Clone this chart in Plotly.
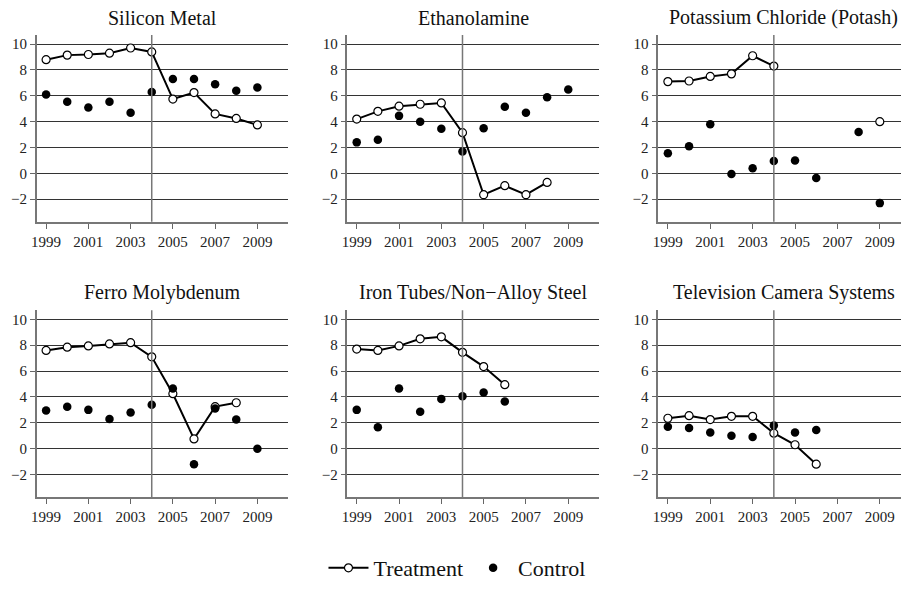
import plotly.graph_objects as go

years = list(range(1999, 2010))

titles = ["Silicon Metal", "Ethanolamine", "Potassium Chloride (Potash)",
          "Ferro Molybdenum", "Iron Tubes/Non\u2212Alloy Steel", "Television Camera Systems"]

treatment = [
    [8.8, 9.15, 9.2, 9.3, 9.7, 9.4, 5.75, 6.25, 4.6, 4.25, 3.75],
    [4.2, 4.8, 5.2, 5.35, 5.45, 3.15, -1.65, -0.95, -1.65, -0.7, None],
    [7.1, 7.15, 7.5, 7.7, 9.1, 8.3, None, None, None, None, 4.0],
    [7.6, 7.85, 7.95, 8.1, 8.2, 7.1, 4.25, 0.75, 3.25, 3.55, None],
    [7.7, 7.6, 7.95, 8.5, 8.65, 7.45, 6.35, 4.95, None, None, None],
    [2.35, 2.55, 2.25, 2.5, 2.5, 1.2, 0.3, -1.2, None, None, None],
]

control = [
    [6.1, 5.55, 5.1, 5.55, 4.7, 6.3, 7.3, 7.3, 6.9, 6.4, 6.65],
    [2.4, 2.6, 4.45, 4.0, 3.45, 1.7, 3.5, 5.15, 4.7, 5.9, 6.5],
    [1.55, 2.1, 3.8, -0.05, 0.4, 0.95, 1.0, -0.35, None, 3.2, -2.3],
    [2.95, 3.25, 3.0, 2.3, 2.8, 3.4, 4.65, -1.2, 3.1, 2.25, 0.0],
    [3.0, 1.65, 4.65, 2.85, 3.85, 4.05, 4.35, 3.65, None, None, None],
    [1.7, 1.6, 1.25, 1.0, 0.9, 1.8, 1.25, 1.45, None, None, None],
]

W, H = 901, 589
# panel boxes in pixels (left, right, top, bottom)
col_px = [(31, 283.7), (343.7, 596.7), (656.7, 901)]
row_px = [(35.7, 225.7), (315.7, 505.7)]
x_ranges = [[1998.56, 2010.44], [1998.56, 2010.44], [1998.55, 2010.0]]
title_cx = [157.3, 470.2, 783]
title_y = [18, 298]

serif = "'Liberation Serif', 'Times New Roman', Times, 'DejaVu Serif', serif"


def px(v):
    return v / W


def py(v):
    return (H - v) / H


fig = go.Figure()
for i in range(6):
    r, c = divmod(i, 3)
    n = "" if i == 0 else str(i + 1)
    xa, ya = "x" + n, "y" + n
    fig.add_trace(go.Scatter(
        x=years, y=treatment[i], xaxis=xa, yaxis=ya, mode="lines+markers",
        name="Treatment", showlegend=(i == 0), connectgaps=False,
        line=dict(color="black", width=2),
        marker=dict(symbol="circle", size=8, color="white",
                    line=dict(color="black", width=1.2))))
    fig.add_trace(go.Scatter(
        x=years, y=control[i], xaxis=xa, yaxis=ya, mode="markers",
        name="Control", showlegend=(i == 0),
        marker=dict(symbol="circle", size=8.5, color="black")))

    l, rr = col_px[c]
    t, b = row_px[r]
    fig.update_layout(**{
        "xaxis" + n: dict(
            domain=[px(l), min(px(rr), 1.0)], range=x_ranges[c],
            tickvals=[1999, 2001, 2003, 2005, 2007, 2009],
            ticks="outside", ticklen=5, tickcolor="#666", tickwidth=1,
            showgrid=False, zeroline=False, showline=True,
            linecolor="#777", linewidth=1.5, anchor=ya,
            tickfont=dict(family=serif, size=15, color="#222")),
        "yaxis" + n: dict(
            domain=[py(b), py(t)], range=[-3.75, 10.7],
            tickvals=[-2, 0, 2, 4, 6, 8, 10],
            ticks="outside", ticklen=5, tickcolor="#666", tickwidth=1,
            showgrid=True, gridcolor="#333", gridwidth=1,
            zeroline=False, showline=True, linecolor="#777", linewidth=1.5,
            anchor=xa, tickfont=dict(family=serif, size=15, color="#222")),
    })
    fig.add_shape(type="line", xref=xa, yref="paper",
                  x0=2004, x1=2004, y0=py(b), y1=py(t),
                  line=dict(color="#777", width=1.5))
    fig.add_annotation(text=titles[i], xref="paper", yref="paper",
                       x=px(title_cx[c]), y=py(title_y[r]),
                       xanchor="center", yanchor="middle", showarrow=False,
                       font=dict(family=serif, size=20, color="#111"))

fig.update_layout(
    width=W, height=H, margin=dict(l=0, r=0, t=0, b=0),
    font=dict(family=serif),
    plot_bgcolor="white", paper_bgcolor="white",
    legend=dict(orientation="h", x=px(454), y=py(578), xanchor="center",
                yanchor="middle", font=dict(family=serif, size=22, color="#111"),
                itemwidth=40),
    showlegend=True,
)

# drop the default body margin so the figure sits at the page origin
fig.write_html("out.html", config={"displayModeBar": False},
               post_script="document.body.style.margin='0';"
                           "document.body.style.overflow='hidden';")
